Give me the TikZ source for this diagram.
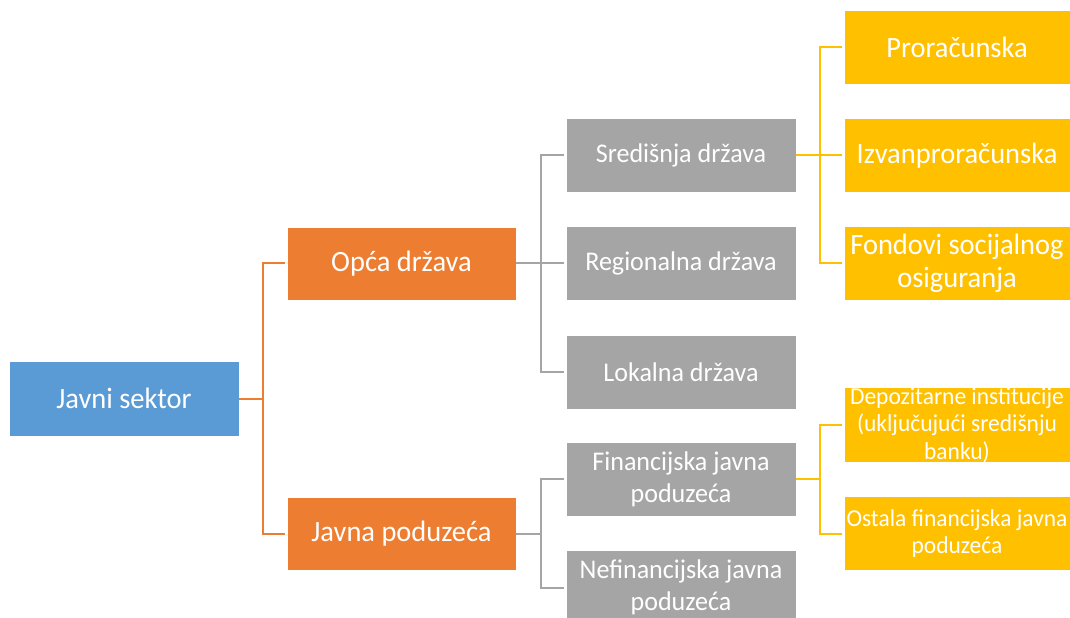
\documentclass[tikz,border=0pt]{standalone}
\usepackage{fontspec}
\setmainfont{Carlito}[FakeStretch=0.965]
\definecolor{cblue}{HTML}{5B9BD5}
\definecolor{corange}{HTML}{ED7D31}
\definecolor{cgray}{HTML}{A5A5A5}
\definecolor{cyellow}{HTML}{FFC000}
\tikzset{
  box/.style={rectangle, inner sep=0pt, text=white, align=center, draw=white, line width=0.6bp},
  big/.style={font=\fontsize{29.5bp}{33bp}\selectfont},
  mid/.style={font=\fontsize{27bp}{32bp}\selectfont},
  small/.style={font=\fontsize{24.3bp}{27.5bp}\selectfont},
  bluebox/.style={box, big, fill=cblue, minimum width=230bp, minimum height=75bp},
  orangebox/.style={box, big, fill=corange, minimum width=229bp, minimum height=73bp},
  graybox/.style={box, mid, fill=cgray, minimum width=230bp, minimum height=74bp},
  yellowbox/.style={box, fill=cyellow, minimum width=226bp, minimum height=74bp},
  oline/.style={draw=corange, line width=2bp, shorten >=2bp},
  gline/.style={draw=cgray, line width=2bp, shorten >=2bp},
  yline/.style={draw=cyellow, line width=2bp, shorten >=2bp},
}
\begin{document}
\begin{tikzpicture}[x=1bp, y=-1bp]
\useasboundingbox (0,0) rectangle (1070,618);
\clip (0,0) rectangle (1070,618);
% level 0
\node[bluebox] (js) at (124,398.5) {Javni sektor};
% level 1
\node[orangebox] (od) at (401.5,263.5) {Opća država};
\node[orangebox] (jp) at (401.5,533.5) {Javna poduzeća};
% level 2
\node[graybox] (sd) at (681,155.5) {Središnja država};
\node[graybox] (rd) at (681,263.5) {Regionalna država};
\node[graybox] (ld) at (681,372) {Lokalna država};
\node[graybox] (fj) at (681,479) {Financijska javna\\poduzeća};
\node[graybox] (nj) at (681,587.5) {Nefinancijska javna\\poduzeća};
% level 3
\node[yellowbox, big] (pr) at (957,47) {Proračunska};
\node[yellowbox, big] (iz) at (957,155.5) {Izvanproračunska};
\node[yellowbox, big] (fo) at (957,263.5) {Fondovi socijalnog\\osiguranja};
\node[yellowbox, small] (dp) at (957,425) {Depozitarne institucije\\(uključujući središnju\\banku)};
\node[yellowbox, small] (os) at (957,533.5) {Ostala financijska javna\\poduzeća};
% connectors
\draw[oline] (js.east) -- ++(24,0) |- (od.west);
\draw[oline] (js.east) -- ++(24,0) |- (jp.west);
\draw[gline] (od.east) -- ++(25,0) |- (sd.west);
\draw[gline] (od.east) -- ++(25,0) |- (rd.west);
\draw[gline] (od.east) -- ++(25,0) |- (ld.west);
\draw[gline] (jp.east) -- ++(25,0) |- (fj.west);
\draw[gline] (jp.east) -- ++(25,0) |- (nj.west);
\draw[yline] (sd.east) -- ++(24,0) |- (pr.west);
\draw[yline] (sd.east) -- ++(24,0) |- (iz.west);
\draw[yline] (sd.east) -- ++(24,0) |- (fo.west);
\draw[yline] (fj.east) -- ++(24,0) |- (dp.west);
\draw[yline] (fj.east) -- ++(24,0) |- (os.west);
\end{tikzpicture}
\end{document}
